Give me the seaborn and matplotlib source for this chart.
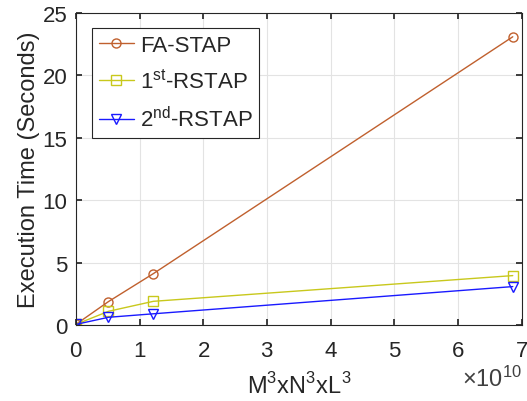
import matplotlib

matplotlib.use("Agg")

import matplotlib.pyplot as plt
import numpy as np
import pandas as pd
import seaborn as sns

# problem size M^3 x N^3 x L^3
problem_size = [0.0, 0.512e10, 1.2167e10, 6.859e10]

fa_stap = [0.05, 1.88, 4.12, 23.1]
rstap_1st = [0.05, 1.10, 1.90, 3.96]
rstap_2nd = [0.05, 0.62, 0.90, 3.08]

series_names = ["FA-STAP", "1$^{\\mathrm{st}}$-RSTAP", "2$^{\\mathrm{nd}}$-RSTAP"]
series_colors = ["#c0602e", "#c8c81c", "#1a1aff"]
series_markers = ["o", "s", "v"]

sns.set_theme(style="whitegrid")
plt.rcParams["font.family"] = ["Liberation Sans", "DejaVu Sans"]
plt.rcParams["mathtext.fontset"] = "custom"
plt.rcParams["mathtext.rm"] = "Liberation Sans"

fig = plt.figure(figsize=(5.27, 4.02), dpi=100)
ax = fig.add_axes([0.144, 0.189, 0.846, 0.776])

for name, vals, color, mk in zip(series_names,
                                 [fa_stap, rstap_1st, rstap_2nd],
                                 series_colors, series_markers):
    df = pd.DataFrame({"x": problem_size, "y": vals})
    sns.lineplot(data=df, x="x", y="y", ax=ax, color=color, linewidth=1.0,
                 marker=mk, markersize=6.5, markerfacecolor="none",
                 markeredgecolor=color, markeredgewidth=1.0, label=name)

ax.set_xlim(0, 7e10)
ax.set_ylim(0, 25)
ax.set_xticks(np.arange(0, 8) * 1e10)
ax.set_yticks(np.arange(0, 30, 5))
ax.ticklabel_format(axis="x", style="sci", scilimits=(0, 0), useMathText=True)

ax.set_xlabel("M$^3$xN$^3$xL$^3$", fontsize=17, color="#262626", labelpad=8)
ax.set_ylabel("Execution Time (Seconds)", fontsize=17, color="#262626", labelpad=2)
ax.tick_params(labelsize=16, colors="#262626", direction="in", length=4,
               top=True, right=True, bottom=True, left=True)
ax.tick_params(axis="x", pad=11)
ax.tick_params(axis="y", pad=6)
off = ax.xaxis.get_offset_text()
off.set_fontsize(17)
off.set_color("#404040")
off.set_y(-0.05)

ax.grid(True, color="#e3e3e3", linewidth=0.8)
for sp in ax.spines.values():
    sp.set_color("#262626")
    sp.set_linewidth(0.8)

leg = ax.legend(loc="upper left", fontsize=16, frameon=True, fancybox=False,
                edgecolor="#262626", framealpha=1, borderpad=0.3,
                handlelength=1.6, handletextpad=0.25, labelspacing=0.6,
                borderaxespad=0, bbox_to_anchor=(0.036, 0.952))
leg.get_frame().set_linewidth(0.8)

plt.savefig("out.png", dpi=100)
plt.close(fig)
